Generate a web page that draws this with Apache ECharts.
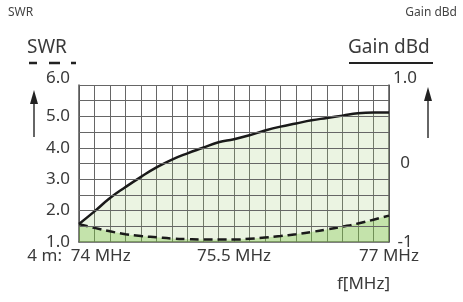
<!DOCTYPE html>
<html>
<head>
<meta charset="utf-8">
<script src="https://cdn.jsdelivr.net/npm/echarts@6/dist/echarts.min.js"></script>
<style>
  html, body { margin: 0; padding: 0; background: #fff; }
  #chart { width: 463px; height: 302px; }
</style>
</head>
<body>
<div id="chart"></div>
<script>
// frequency steps, 74 - 77 MHz (grid columns)
const freqs = ['74.00', '74.15', '74.30', '74.45', '74.60', '74.75', '74.90', '75.05', '75.20', '75.35',
  '75.50', '75.65', '75.80', '75.95', '76.10', '76.25', '76.40', '76.55', '76.70', '76.85', '77.00']
// gain in dBd (solid line, right axis)
const gain = [-0.77, -0.61, -0.44, -0.30, -0.17, -0.05, 0.05, 0.13, 0.20, 0.27,
  0.31, 0.36, 0.42, 0.47, 0.51, 0.55, 0.58, 0.61, 0.64, 0.65, 0.65]
// SWR (dashed line, left axis)
const swr = [1.57, 1.45, 1.34, 1.25, 1.19, 1.15, 1.11, 1.09, 1.08, 1.08,
  1.08, 1.10, 1.14, 1.19, 1.25, 1.32, 1.40, 1.49, 1.59, 1.71, 1.84]
// x tick labels shown
const xTickLabels = { '74.00': '4 m:  74 MHz', '75.50': '75.5 MHz', '77.00': '77 MHz' }
const gainTicks = { '1': '1.0', '0': '0', '-1': '-1' }
// horizontal grid rows (gain units, 0.2 dB = 0.5 SWR)
const gainGridLevels = [-0.8, -0.6, -0.4, -0.2, 0, 0.2, 0.4, 0.6, 0.8, 1.0]

const font = 'Noto Sans'
const txt = '#3a3a3a'
const gridCol = '#666'

const chart = echarts.init(document.getElementById('chart'))

// top label sits a bit above the grid top
const rich = { top: { padding: [0, 0, 14, 0], fontSize: 17, fontFamily: font, color: txt } }

const option = {
  animation: false,
  textStyle: { fontFamily: font },
  grid: { left: 79, right: 74, top: 85, bottom: 60 },
  xAxis: {
    type: 'category',
    data: freqs,
    boundaryGap: false,
    axisLine: { onZero: false, lineStyle: { color: '#555', width: 1.5 } },
    axisTick: { show: false },
    axisLabel: {
      interval: 0,
      margin: 6,
      color: txt,
      fontSize: 17,
      fontFamily: font,
      formatter: v => xTickLabels[v] || ''
    },
    splitLine: { show: true, interval: 0, lineStyle: { color: gridCol, width: 1 } }
  },
  yAxis: [
    {
      type: 'value',
      min: 1, max: 6, interval: 1,
      axisLine: { show: true, lineStyle: { color: '#555', width: 1.5 } },
      axisTick: { show: false },
      axisLabel: {
        margin: 9,
        color: txt,
        fontSize: 17,
        fontFamily: font,
        rich,
        formatter: v => v === 6 ? '{top|' + v.toFixed(1) + '}' : v.toFixed(1)
      },
      splitLine: { show: false }
    },
    {
      type: 'value',
      min: -1, max: 1, interval: 1,
      axisLine: { show: true, lineStyle: { color: '#555', width: 1.5 } },
      axisTick: { show: false },
      axisLabel: {
        margin: 16,
        align: 'center',
        color: txt,
        fontSize: 17,
        fontFamily: font,
        rich,
        formatter: v => {
          const s = gainTicks[String(Math.round(v * 100) / 100)] || ''
          return s === '1.0' ? '{top|' + s + '}' : s
        }
      },
      splitLine: { show: false }
    }
  ],
  graphic: [
    { type: 'text', left: 8, top: 7, style: { text: 'SWR', font: '12px "Noto Sans"', fill: '#444' } },
    { type: 'text', right: 6, top: 7, style: { text: 'Gain dBd', font: '12px "Noto Sans"', fill: '#444' } },
    { type: 'text', left: 27, top: 38, style: { text: 'SWR', font: '19px "Noto Sans"', fill: txt } },
    { type: 'line', shape: { x1: 29, y1: 63, x2: 76, y2: 63 }, style: { stroke: '#222', lineWidth: 2.5, lineDash: [8, 12, 11, 11] } },
    { type: 'text', left: 348, top: 38, style: { text: 'Gain dBd', font: '19px "Noto Sans"', fill: txt } },
    { type: 'line', shape: { x1: 349, y1: 63, x2: 433, y2: 63 }, style: { stroke: '#222', lineWidth: 2 } },
    // arrows
    { type: 'line', shape: { x1: 34, y1: 137, x2: 34, y2: 100 }, style: { stroke: '#333', lineWidth: 1.5 } },
    { type: 'polygon', shape: { points: [[34, 90], [30, 104], [38, 104]] }, style: { fill: '#222' } },
    { type: 'line', shape: { x1: 428, y1: 138, x2: 428, y2: 98 }, style: { stroke: '#333', lineWidth: 1.5 } },
    { type: 'polygon', shape: { points: [[428, 87], [424, 101], [432, 101]] }, style: { fill: '#222' } },
    { type: 'text', right: 73, top: 276, style: { text: 'f[MHz]', font: '17px "Noto Sans"', fill: txt } }
  ],
  series: [
    {
      name: 'Gain dBd',
      type: 'line',
      yAxisIndex: 1,
      data: gain,
      smooth: true,
      symbol: 'none',
      lineStyle: { color: '#1a1a1a', width: 2.5 },
      areaStyle: { color: 'rgba(160,205,120,0.3)', origin: 'start' },
      markLine: {
        silent: true,
        symbol: 'none',
        label: { show: false },
        lineStyle: { color: gridCol, width: 1, type: 'solid' },
        data: gainGridLevels.map(v => ({ yAxis: v }))
      },
      z: 3
    },
    {
      name: 'SWR',
      type: 'line',
      yAxisIndex: 0,
      data: swr,
      smooth: true,
      symbol: 'none',
      lineStyle: { color: '#1a1a1a', width: 2.5, type: [9, 5] },
      areaStyle: { color: 'rgba(110,190,50,0.45)', origin: 'start' },
      z: 4
    }
  ]
}

chart.setOption(option)
</script>
</body>
</html>
